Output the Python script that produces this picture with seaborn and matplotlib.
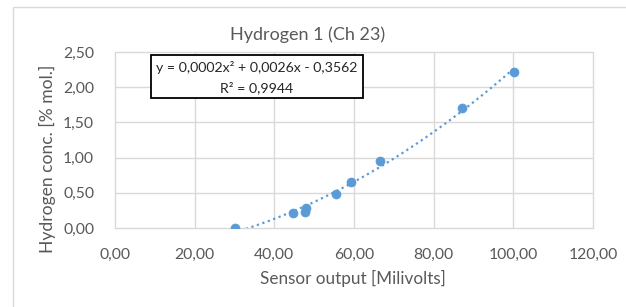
import matplotlib
matplotlib.use("Agg")
import matplotlib.pyplot as plt
import seaborn as sns
import numpy as np
import pandas as pd
from matplotlib.patches import Rectangle

# data
sensor_mv = [30.1, 44.6, 47.8, 47.9, 55.5, 59.2, 66.5, 87.2, 100.1]
h2_conc = [0.00, 0.22, 0.23, 0.28, 0.49, 0.65, 0.95, 1.71, 2.22]
x_ticks = [0, 20, 40, 60, 80, 100, 120]
y_ticks = [0.0, 0.5, 1.0, 1.5, 2.0, 2.5]

title = "Hydrogen 1 (Ch 23)"
eq_line1 = "y = 0,0002x² + 0,0026x - 0,3562"
eq_line2 = "R² = 0,9944"

BLUE = "#5B9BD5"
GRID = "#D9D9D9"
TEXT = "#595959"

sns.set_style("white")
plt.rcParams['font.family'] = ['Lato', 'DejaVu Sans']
plt.rcParams['font.size'] = 11

df = pd.DataFrame({"x": sensor_mv, "y": h2_conc})

# polynomial trendline (order 2), like the Excel one
coef = np.polyfit(df["x"], df["y"], 2)
xs = np.linspace(min(sensor_mv), max(sensor_mv), 200)
trend = pd.DataFrame({"x": xs, "y": np.polyval(coef, xs)})

W, H = 626, 307
fig = plt.figure(figsize=(W / 100, H / 100), dpi=100)
ax = fig.add_axes([115 / W, 1 - 228 / H, (593 - 115) / W, (228 - 52) / H])

for v in x_ticks:
    ax.axvline(v, color=GRID, lw=1, zorder=0, clip_on=False)
for v in y_ticks:
    ax.axhline(v, color=GRID, lw=1, zorder=0, clip_on=False)

sns.lineplot(data=trend, x="x", y="y", ax=ax, color=BLUE, lw=1.6,
             linestyle=(0, (1, 1.6)), zorder=2)
sns.scatterplot(data=df, x="x", y="y", ax=ax, color=BLUE, s=42,
                edgecolor=BLUE, linewidth=0.5, zorder=3)

ax.set_xlim(0, 120)
ax.set_ylim(0, 2.5)
ax.set_xticks(x_ticks)
ax.set_yticks(y_ticks)
ax.set_xticklabels([f"{v:.2f}".replace(".", ",") for v in x_ticks])
ax.set_yticklabels([f"{v:.2f}".replace(".", ",") for v in y_ticks])
ax.tick_params(axis="both", length=0, colors=TEXT, labelsize=11.3)
ax.tick_params(axis="y", pad=15)
ax.tick_params(axis="x", pad=14)
for s in ax.spines.values():
    s.set_visible(False)
ax.set_xlabel("")
ax.set_ylabel("")

fig.text(353 / W, 1 - 278 / H, "Sensor output [Milivolts]", ha="center",
         va="center", color=TEXT, fontsize=12.3)
fig.text(47 / W, 1 - 159 / H, "Hydrogen conc. [% mol.]", ha="center",
         va="center", rotation=90, color=TEXT, fontsize=12.6)
fig.text(308 / W, 1 - 35 / H, title, ha="center", va="center",
         color=TEXT, fontsize=13)

# equation box
fig.patches.append(Rectangle((151 / W, 1 - 98.5 / H), (363 - 151) / W,
                             (98.5 - 55) / H, transform=fig.transFigure,
                             facecolor="white", edgecolor="black", lw=1.3,
                             zorder=5))
fig.text(257 / W, 1 - 68 / H, eq_line1, ha="center", va="center",
         color="#262626", fontsize=10.2, zorder=6)
fig.text(257 / W, 1 - 88 / H, eq_line2, ha="center", va="center",
         color="#262626", fontsize=10.2, zorder=6)

# outer chart border
fig.patches.append(Rectangle((12.5 / W, -0.1), 1.2, 1 - 7.5 / H + 0.1,
                             transform=fig.transFigure, facecolor="none",
                             edgecolor=GRID, lw=1, zorder=0))

fig.savefig("out.png", dpi=100)
